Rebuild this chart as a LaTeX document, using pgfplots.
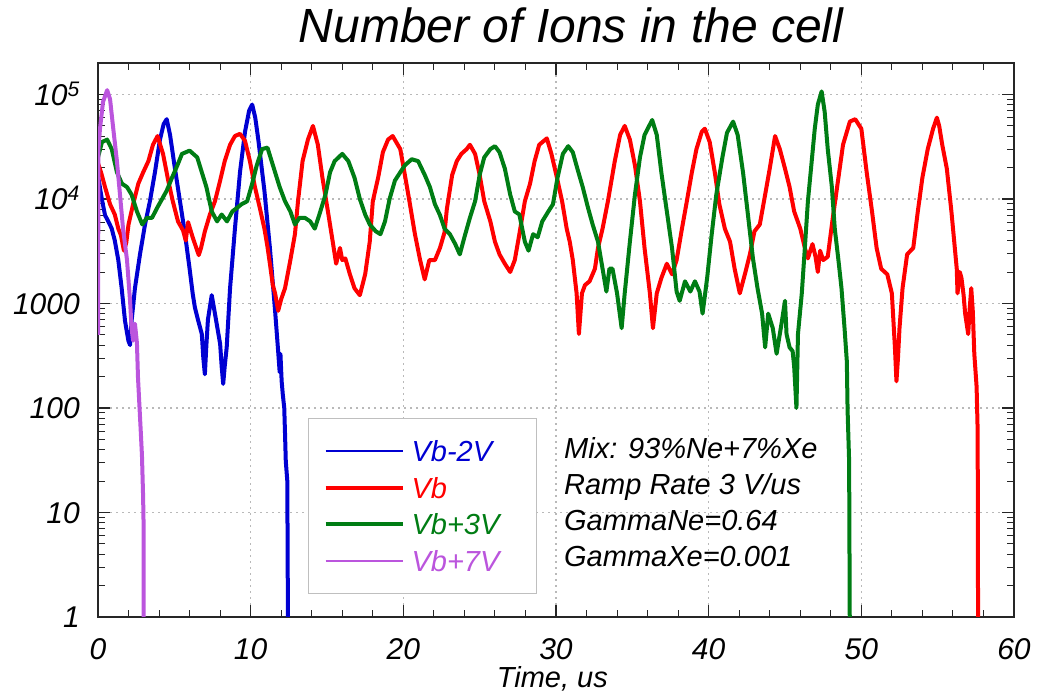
\documentclass[border=0pt]{standalone}
\usepackage{fontspec}
\setmainfont{Liberation Sans}
\usepackage{pgfplots}
\pgfplotsset{compat=1.18}
\definecolor{cblue}{RGB}{0,0,210}
\definecolor{cred}{RGB}{255,0,0}
\definecolor{cgreen}{RGB}{0,125,20}
\definecolor{cpurple}{RGB}{187,85,221}
\begin{document}
\begin{tikzpicture}
\useasboundingbox (0,0) rectangle (1037bp,693bp);
\begin{axis}[
  at={(98bp,76bp)}, anchor=south west,
  scale only axis, width=916bp, height=554bp,
  xmin=0, xmax=60, ymin=1, ymax=2e5, ymode=log,
  axis line style={black!85, line width=1.8bp},
  xtick={0,10,20,30,40,50,60}, xticklabels={0,10,20,30,40,50,60},
  minor xtick={2,4,6,8,12,14,16,18,22,24,26,28,32,34,36,38,42,44,46,48,52,54,56,58},
  ytick={1,10,100,1000,10000,100000},
  yticklabels={1,10,100,1000,10\textsuperscript{4},10\textsuperscript{5}},
  minor ytick={2,3,4,5,6,7,8,9,20,30,40,50,60,70,80,90,200,300,400,500,600,700,800,900,2000,3000,4000,5000,6000,7000,8000,9000,20000,30000,40000,50000,60000,70000,80000,90000},
  major tick length=12bp, minor tick length=7bp,
  every major tick/.append style={line width=1.5bp, black!85},
  every minor tick/.append style={line width=1bp, black!85},
  tick label style={font=\fontsize{30bp}{30bp}\selectfont\itshape, inner sep=0pt},
  yticklabel style={anchor=base east, xshift=-18bp, yshift=-10.6bp},
  xticklabel style={anchor=north, yshift=-21bp},
  grid=major,
  major grid style={line width=1.2bp, gray!55, dash pattern=on 2bp off 4bp},
  title={Number of Ions in the cell},
  title style={font=\fontsize{48bp}{48bp}\selectfont\itshape, at={(axis description cs:0.5164,1)}, anchor=base, yshift=15bp, inner sep=0pt},
  xlabel={Time, us},
  xlabel style={font=\fontsize{29bp}{29bp}\selectfont\itshape, at={(axis description cs:0.496,0)}, anchor=north, yshift=-49bp, inner sep=0pt},
  legend cell align=left,
  legend style={at={(axis description cs:0.2293,0.0415)}, anchor=south west,
    draw=gray!50, line width=1bp, fill=white,
    inner xsep=15bp, inner ysep=22bp, row sep=15.7bp, column sep=7bp,
    nodes={inner sep=0pt, text height=21bp, text depth=0bp, anchor=west},
    font=\fontsize{29bp}{29bp}\selectfont\itshape},
]
\addplot[cblue, line width=4bp, line join=round,
  legend image code/.code={\draw[cblue, line width=2.6bp] (0bp,0bp) -- (77bp,0bp);}] coordinates {
(0.02,16000) (0.25,10000) (0.46,7000) (0.7,6000) (0.9,5200) (1.1,4000) (1.33,2600)
(1.55,1400) (1.77,680) (1.99,440) (2.1,400) (2.2,680) (2.42,1400) (2.75,2950)
(3.08,5700) (3.4,9500) (3.73,18000) (4.06,37000) (4.3,52000) (4.5,58000) (4.72,41000)
(5.04,19500) (5.37,9500) (5.7,4600) (6.0,2150) (6.2,1250) (6.35,910) (6.57,680)
(6.8,510) (6.9,300) (7.0,210) (7.1,400) (7.2,700) (7.45,1200) (7.66,800) (8.0,410)
(8.1,250) (8.2,170) (8.3,250) (8.43,380) (8.65,1400) (8.97,5200) (9.3,18000)
(9.63,44000) (9.9,70000) (10.1,80000) (10.3,60000) (10.5,37000) (10.9,12000)
(11.26,3400) (11.6,850) (11.8,350) (11.9,220) (11.95,330) (12.03,180) (12.1,137)
(12.2,100) (12.25,57) (12.3,31) (12.4,20) (12.45,0.5)
};
\addlegendentry{\makebox[110bp][l]{\textcolor{cblue}{Vb-2V}}}
\addplot[cred, line width=4bp, line join=round,
  legend image code/.code={\draw[cred, line width=4bp] (0bp,0bp) -- (77bp,0bp);}] coordinates {
(0,22000) (0.2,18000) (0.46,13000) (0.79,8900) (1.1,7100) (1.33,5200) (1.5,4500)
(1.7,3200) (1.85,3800) (2.0,5700) (2.3,8900) (2.64,14000) (2.96,18000) (3.3,23000)
(3.6,33000) (3.9,40000) (4.26,27000) (4.6,15000) (4.9,9500) (5.24,6100) (5.57,5000)
(5.75,4000) (5.9,6000) (6.2,4300) (6.6,2900) (6.75,3400) (7.0,4900) (7.33,7100)
(7.66,9500) (8.0,15000) (8.3,23000) (8.65,33000) (8.97,40000) (9.3,42000) (9.63,36000)
(9.95,23000) (10.28,13000) (10.6,8200) (10.9,5200) (11.1,3500) (11.26,2400)
(11.45,1500) (11.6,1250) (11.8,850) (12.0,1100) (12.25,1400) (12.6,2600) (12.9,4600)
(13.1,9500) (13.4,23000) (13.75,37000) (14.08,50000) (14.4,33000) (14.7,16000)
(15.06,7600) (15.4,3700) (15.6,2400) (15.85,3400) (16.0,2600) (16.2,2700) (16.5,1900)
(16.8,1400) (17.15,1200) (17.5,1900) (17.8,3900) (18.0,9500) (18.35,16000)
(18.66,28000) (19.0,37000) (19.3,40000) (19.8,30000) (20.1,17000) (20.4,9500)
(20.76,4600) (21.1,2600) (21.4,1700) (21.7,2600) (22.07,2600) (22.4,3400) (22.7,4800)
(22.85,8000) (23.2,17000) (23.5,23000) (23.8,27000) (24.15,30000) (24.36,33000)
(24.7,27000) (25.0,17000) (25.3,9500) (25.7,6100) (26.0,3900) (26.3,2950) (26.65,2400)
(27.0,2000) (27.3,2600) (27.6,4600) (27.96,9500) (28.3,14000) (28.6,23000) (28.9,33000)
(29.4,38000) (29.7,27000) (30.06,16000) (30.4,9500) (30.7,5200) (30.9,3900) (31.1,2600)
(31.35,1250) (31.5,510) (31.7,1250) (31.9,1500) (32.2,1630) (32.55,2150) (32.75,3400)
(33.05,5200) (33.4,9500) (33.85,23000) (34.2,41000) (34.5,50000) (34.84,37000)
(35.17,21000) (35.5,9500) (35.8,3400) (36.15,1250) (36.35,580) (36.6,1250) (36.9,1750)
(37.26,2400) (37.6,1900) (37.9,2600) (38.25,5200) (38.57,9500) (38.9,18000)
(39.2,30000) (39.55,44000) (39.75,47000) (40.07,35000) (40.4,18000) (40.7,8900)
(41.06,5200) (41.4,3900) (41.7,2150) (42.04,1250) (42.37,1900) (42.7,2950) (43.0,4900)
(43.35,5700) (43.7,11000) (44.0,19500) (44.35,40000) (44.66,30000) (45.0,19500)
(45.3,13000) (45.6,7600) (46.0,5200) (46.3,3400) (46.5,2700) (46.8,3700) (47.0,2800)
(47.15,2000) (47.3,3200) (47.5,2600) (47.8,2800) (48.1,6100) (48.5,16000) (48.8,33000)
(49.25,55000) (49.6,58000) (50.0,47000) (50.35,18000) (50.7,7600) (51.0,3400)
(51.3,2150) (51.7,1900) (52.0,1250) (52.2,380) (52.3,180) (52.4,300) (52.5,580)
(52.7,1400) (53.0,2950) (53.4,3400) (53.7,7600) (54.0,16000) (54.35,30000)
(54.7,47000) (54.95,60000) (55.1,50000) (55.3,33000) (55.6,19500) (55.9,7600)
(56.1,3700) (56.25,2150) (56.3,1250) (56.45,2000) (56.56,1750) (56.7,1200) (56.8,800)
(57.0,510) (57.1,900) (57.2,1400) (57.3,850) (57.4,330) (57.55,160) (57.62,60)
(57.65,0.5)
};
\addlegendentry{\makebox[110bp][l]{\textcolor{cred}{Vb}}}
\addplot[cgreen, line width=4bp, line join=round,
  legend image code/.code={\draw[cgreen, line width=4bp] (0bp,0bp) -- (77bp,0bp);}] coordinates {
(0,25000) (0.26,35000) (0.6,37000) (0.9,30000) (1.24,18000) (1.57,14000) (1.9,13000)
(2.2,11000) (2.55,7600) (2.9,5700) (3.2,6600) (3.54,6600) (3.87,8200) (4.2,10000)
(4.5,12000) (4.85,16000) (5.2,21000) (5.5,27000) (6.0,29000) (6.5,25000) (6.8,18000)
(7.1,13000) (7.45,7600) (7.8,6100) (8.1,7100) (8.45,6100) (8.8,7600) (9.1,8200)
(9.4,8900) (9.77,9500) (10.1,14000) (10.4,21000) (10.75,30000) (11.1,31000)
(11.6,18000) (11.9,13000) (12.25,9500) (12.6,7600) (12.9,5700) (13.2,6600)
(13.55,6600) (13.9,6100) (14.2,5200) (14.5,7100) (14.9,11000) (15.2,18000)
(15.5,23000) (16.0,27000) (16.4,23000) (16.8,16000) (17.15,10000) (17.5,7100)
(17.8,5700) (18.2,4900) (18.5,4600) (18.8,6100) (19.1,10000) (19.45,15000)
(19.8,18000) (20.1,21000) (20.55,24000) (20.97,23000) (21.4,17000) (21.74,13000)
(22.07,8900) (22.4,7000) (22.7,5200) (23.05,4600) (23.4,3700) (23.7,2950) (24.0,4300)
(24.36,6600) (24.7,9500) (25.0,17000) (25.3,25000) (25.7,30000) (26.0,32000)
(26.3,28000) (26.65,19500) (27.0,11000) (27.3,7600) (27.6,7100) (27.96,3900)
(28.2,3200) (28.5,4600) (28.8,4300) (29.1,6100) (29.5,7600) (29.8,8900) (30.1,16000)
(30.45,27000) (30.8,32000) (31.1,28000) (31.4,19500) (31.75,13000) (32.1,8200)
(32.4,5700) (32.75,3900) (33.05,2150) (33.3,1300) (33.5,2150) (33.7,2150) (34.0,1250)
(34.3,580) (34.5,1250) (34.84,3900) (35.17,11000) (35.5,25000) (35.8,41000)
(36.3,57000) (36.6,41000) (36.9,18000) (37.26,7600) (37.6,3400) (37.9,1300)
(38.1,1060) (38.45,1630) (38.8,1300) (39.1,1630) (39.4,1300) (39.6,800) (39.9,1750)
(40.2,4600) (40.5,11000) (40.9,25000) (41.2,43000) (41.6,55000) (41.9,41000)
(42.25,18000) (42.57,7100) (42.9,2700) (43.2,1400) (43.5,800) (43.7,380) (43.9,800)
(44.2,580) (44.45,330) (44.8,680) (45.0,1060) (45.1,510) (45.3,380) (45.5,350)
(45.6,250) (45.75,100) (45.85,510) (46.1,1250) (46.3,3400) (46.5,9500) (46.75,23000)
(46.95,47000) (47.15,80000) (47.4,107000) (47.6,68000) (47.8,30000) (48.07,13000)
(48.26,5200) (48.5,2600) (48.7,1400) (48.9,580) (49.05,280) (49.1,95) (49.2,31)
(49.25,0.5)
};
\addlegendentry{\makebox[110bp][l]{\textcolor{cgreen}{Vb+3V}}}
\addplot[cpurple, line width=4bp, line join=round,
  legend image code/.code={\draw[cpurple, line width=2.6bp] (0bp,0bp) -- (77bp,0bp);}] coordinates {
(0.0,500) (0.03,30000) (0.13,47000) (0.33,85000) (0.6,110000) (0.79,90000)
(1.0,47000) (1.24,23000) (1.44,11000) (1.64,5200) (1.9,2600) (2.1,1060) (2.2,580)
(2.3,440) (2.42,640) (2.55,420) (2.62,195) (2.7,115) (2.8,60) (2.88,35) (2.95,15)
(2.98,9) (3.0,0.5)
};
\addlegendentry{\makebox[110bp][l]{\textcolor{cpurple}{Vb+7V}}}
\node[anchor=north west, inner sep=0pt, align=left, font=\fontsize{29bp}{36bp}\selectfont\itshape]
  at (rel axis cs:0.5087,0.3249) {Mix: 93\%Ne+7\%Xe\\Ramp Rate 3 V/us\\GammaNe=0.64\\GammaXe=0.001};
\end{axis}
\end{tikzpicture}
\end{document}
